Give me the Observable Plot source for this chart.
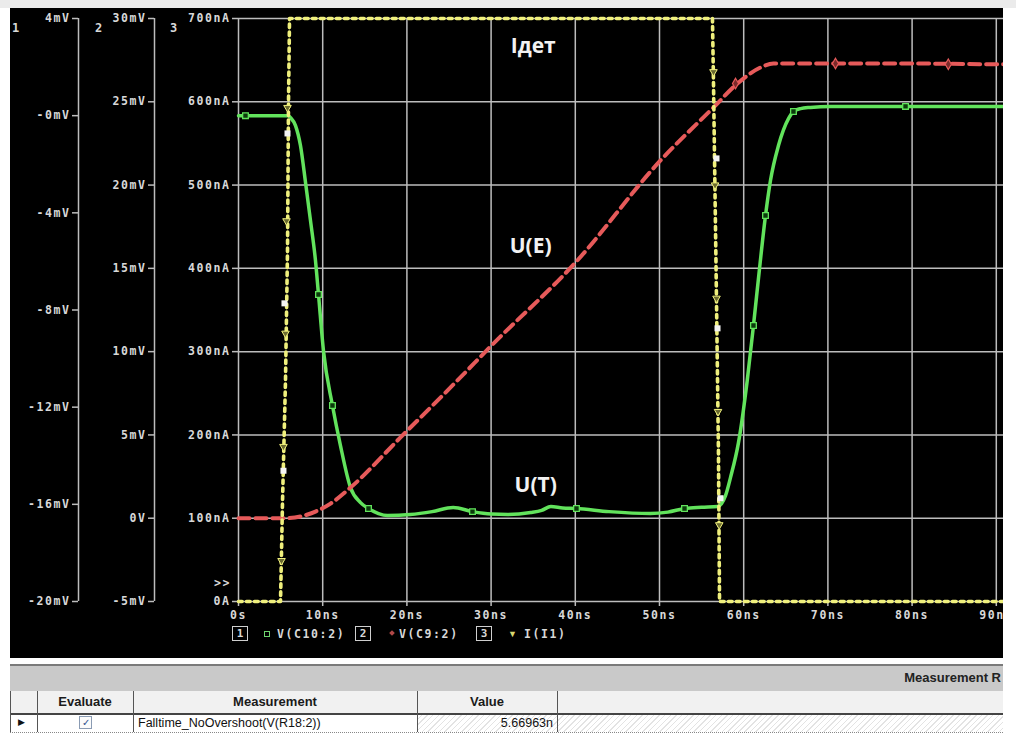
<!DOCTYPE html>
<html><head><meta charset="utf-8">
<script src="https://cdn.jsdelivr.net/npm/d3@7"></script>
<script src="https://cdn.jsdelivr.net/npm/@observablehq/plot@0.6"></script>
<style>
body{margin:0;width:1016px;height:736px;background:#fff;position:relative;overflow:hidden;font-family:"Liberation Sans",Arial,sans-serif;}
.abs{position:absolute;}
#topstrip{left:0;top:0;width:1016px;height:8px;background:#ebebeb;}
#scope{left:10px;top:8px;width:993px;height:650px;background:#000;overflow:hidden;}
#scope svg{max-width:none !important;display:block;}
#scope g[aria-label$="tick label"] text{letter-spacing:1.6px;}
.m{position:absolute;font-family:"DejaVu Sans Mono",monospace;font-weight:bold;color:#d8d8d8;font-size:11.5px;letter-spacing:1.6px;line-height:14px;white-space:nowrap;}
.box{position:absolute;border:1.5px solid #cfcfcf;width:14px;height:13px;text-align:center;line-height:13px;font-family:"DejaVu Sans Mono",monospace;font-weight:bold;color:#d8d8d8;font-size:11px;}
.hdr{position:absolute;font-weight:bold;font-size:13px;color:#1a1a1a;text-align:center;line-height:20px;}
.vl{position:absolute;width:1px;background:#555;}
.hatch{background:repeating-linear-gradient(135deg,#ffffff 0px,#ffffff 3px,#e3e3e3 3px,#e3e3e3 4px);}
</style></head>
<body>
<div id="topstrip" class="abs"></div>
<div id="scope" class="abs"></div>

<div class="m" style="left:12px;top:21px;font-size:12px;">1</div>
<div class="m" style="left:95px;top:21px;font-size:12px;">2</div>
<div class="m" style="left:170px;top:21px;font-size:12px;">3</div>
<div class="m" style="left:214px;top:576px;">&gt;&gt;</div>

<!-- legend -->
<div class="box" style="left:232px;top:626px;">1</div>
<div class="abs" style="left:264px;top:631px;width:4px;height:4px;border:1.2px solid #6fd46f;"></div>
<div class="m" style="left:277px;top:627px;">V(C10:2)</div>
<div class="box" style="left:355px;top:626px;">2</div>
<div class="abs" style="left:390px;top:631px;width:4px;height:4px;background:#b04848;transform:rotate(45deg);"></div>
<div class="m" style="left:399px;top:627px;">V(C9:2)</div>
<div class="box" style="left:476px;top:626px;">3</div>
<div class="abs" style="left:508px;top:628px;color:#d8d870;font-size:9px;line-height:12px;">▼</div>
<div class="m" style="left:524px;top:627px;">I(I1)</div>

<!-- table -->
<div class="abs" style="left:10px;top:664px;width:993px;height:2px;background:#7a7a7a;"></div>
<div class="abs" style="left:10px;top:666px;width:993px;height:25px;background:#c9c9c9;overflow:hidden;">
  <div class="abs" style="right:2px;top:4px;font-weight:bold;font-size:13px;color:#222;white-space:nowrap;">Measurement R</div>
</div>
<div class="abs" style="left:10px;top:691px;width:993px;height:22px;background:#f1f1f1;"></div>
<div class="abs" style="left:10px;top:713px;width:993px;height:2px;background:#444;"></div>
<div class="abs hatch" style="left:417px;top:715px;width:586px;height:17px;"></div>
<div class="abs" style="left:10px;top:732px;width:993px;height:1px;border-top:1px dotted #888;"></div>
<div class="vl" style="left:10px;top:691px;height:41px;"></div>
<div class="vl" style="left:37px;top:691px;height:41px;"></div>
<div class="vl" style="left:133px;top:691px;height:41px;"></div>
<div class="vl" style="left:417px;top:691px;height:41px;"></div>
<div class="vl" style="left:557px;top:691px;height:41px;"></div>
<div class="hdr" style="left:37px;top:692px;width:96px;">Evaluate</div>
<div class="hdr" style="left:133px;top:692px;width:284px;">Measurement</div>
<div class="hdr" style="left:417px;top:692px;width:140px;">Value</div>
<div class="abs" style="left:18px;top:716px;font-size:9px;line-height:12px;color:#111;">▶</div>
<div class="abs" style="left:79px;top:716px;width:11px;height:11px;border:1px solid #8a9bb3;background:#fbfbfb;color:#2d4f8f;font-size:10px;line-height:11px;text-align:center;">✓</div>
<div class="abs" style="left:138px;top:715px;font-size:12.5px;line-height:16px;color:#111;white-space:nowrap;">Falltime_NoOvershoot(V(R18:2))</div>
<div class="abs" style="left:420px;top:715px;width:133px;text-align:right;font-size:12.5px;line-height:16px;color:#111;">5.66963n</div>

<script>
// ---- tick values & labels ----
const xTicks = [0, 10, 20, 30, 40, 50, 60, 70, 80, 90];
const xLabels = ["0s", "10ns", "20ns", "30ns", "40ns", "50ns", "60ns", "70ns", "80ns", "90ns"];
const nATicks = [0, 100, 200, 300, 400, 500, 600, 700];
const nALabels = ["0A", "100nA", "200nA", "300nA", "400nA", "500nA", "600nA", "700nA"];
const ax2Ticks = [-5, 0, 5, 10, 15, 20, 25, 30];
const ax2Labels = ["-5mV", "0V", "5mV", "10mV", "15mV", "20mV", "25mV", "30mV"];
const ax1Ticks = [-20, -16, -12, -8, -4, 0, 4];
const ax1Labels = ["-20mV", "-16mV", "-12mV", "-8mV", "-4mV", "-0mV", "4mV"];

// ---- trace 1: V(C10:2), axis 1 (mV) ----
const greenT = [0, 5.9, 6.18, 6.77, 7.36, 7.96, 8.55, 9.14, 9.50, 10.10, 11.16, 12.11, 13.30, 14.49, 15.44, 16.63, 17.70,
  20.4, 23.0, 25.5, 27.8, 30.0, 32.0, 34.7, 36.0, 37.1, 38.5, 40.1, 44.0, 48.9, 51.0, 53.0, 55.0, 56.9,
  57.36, 57.84, 58.43, 59.38, 60.42, 61.16, 61.88, 62.59, 63.18, 64.13, 65.32, 65.91, 66.75, 67.93, 70.3, 80, 90, 100];
const greenMV = [0, 0, -0.08, -0.41, -1.23, -2.75, -4.32, -5.96, -7.36, -9.71, -11.93, -13.58, -15.31, -15.93, -16.17, -16.38, -16.46,
  -16.42, -16.30, -16.13, -16.30, -16.40, -16.42, -16.34, -16.25, -16.09, -16.15, -16.17, -16.30, -16.38, -16.32, -16.17, -16.12, -16.09,
  -15.97, -15.64, -14.90, -13.46, -10.90, -8.64, -6.29, -4.11, -2.67, -1.23, -0.12, 0.17, 0.29, 0.34, 0.38, 0.38, 0.38, 0.36];
const greenMarkT = [0.83, 9.50, 11.16, 15.44, 27.79, 40.14, 52.97, 61.16, 62.59, 65.91, 79.22];
const greenMarkMV = [0, -7.36, -11.93, -16.17, -16.30, -16.17, -16.17, -8.64, -4.11, 0.17, 0.38];

// ---- trace 2: V(C9:2), axis 2 (mV) ----
const redT = [0, 5.58, 7.36, 9.14, 10.93, 13.3, 19.24, 26.0, 30.05, 40.02, 50.12, 56.41, 59.26, 62.0, 63.54, 70, 80, 90, 100];
const redMV = [0, 0, 0.1, 0.4, 0.88, 1.84, 4.85, 8.27, 10.37, 15.35, 21.48, 24.66, 26.1, 27.06, 27.3, 27.3, 27.3, 27.25, 27.25];
const redMarkT = [59.03, 70.9, 84.3];
const redMarkMV = [26.1, 27.3, 27.25];

// ---- trace 3: I(I1), axis 3 (nA) ----
const yellowT = [0, 4.99, 5.23, 5.58, 5.82, 5.94, 6.06, 56.29, 56.41, 56.77, 57.0, 57.13, 100];
const yellowNA = [0, 0, 121, 265, 421, 601, 700, 700, 625, 361, 181, 0, 0];
const yellowMarkT = [5.82, 5.70, 5.58, 5.34, 5.11, 56.41, 56.6, 56.77, 56.95, 57.1];
const yellowMarkNA = [593, 457, 322, 186, 49, 636, 500, 364, 228, 92];
const cursorT = [5.82, 5.46, 5.34, 56.77, 56.89, 57.24];
const cursorNA = [562, 358, 157, 532, 328, 124];

// ---- annotations ----
const notes = [
  {t: 35.0, nA: 667, label: "Iдет"},
  {t: 34.7, nA: 427, label: "U(E)"},
  {t: 35.3, nA: 140, label: "U(T)"}
];

// map each axis' units onto the shared vertical scale (0..700, axis 3)
const fromAx1 = v => (v + 20) / 24 * 700;
const fromAx2 = v => (v + 5) / 35 * 700;

const green = greenT.map((t, i) => ({t, y: fromAx1(greenMV[i])}));
const greenMarks = greenMarkT.map((t, i) => ({t, y: fromAx1(greenMarkMV[i])}));
const red = redT.map((t, i) => ({t, y: fromAx2(redMV[i])}));
const redMarks = redMarkT.map((t, i) => ({t, y: fromAx2(redMarkMV[i])}));
const yellow = yellowT.map((t, i) => ({t, y: yellowNA[i]}));
const yellowMarks = yellowMarkT.map((t, i) => ({t, y: yellowMarkNA[i]}));
const cursors = cursorT.map((t, i) => ({t, y: cursorNA[i]}));

const xLab = new Map(xTicks.map((d, i) => [d, xLabels[i]]));
const nALab = new Map(nATicks.map((d, i) => [d, nALabels[i]]));
const ax2Pos = ax2Ticks.map(fromAx2);
const ax2Lab = new Map(ax2Pos.map((d, i) => [d, ax2Labels[i]]));
const ax1Pos = ax1Ticks.map(fromAx1);
const ax1Lab = new Map(ax1Pos.map((d, i) => [d, ax1Labels[i]]));

const grid = "#bdbdbd";
const GREEN = "#62e35c", RED = "#e65a5a", YELLOW = "#efef7c";

const chart = Plot.plot({
  width: 1070, height: 650,
  marginLeft: 228, marginRight: 0, marginTop: 10, marginBottom: 57,
  style: {background: "black", color: "#d8d8d8", fontFamily: "DejaVu Sans Mono, monospace", fontSize: "11.5px", fontWeight: "bold", maxWidth: "none"},
  x: {domain: [0, 100]},
  y: {domain: [0, 700]},
  marks: [
    Plot.ruleX([...xTicks, 100], {stroke: grid, strokeWidth: 1.5}),
    Plot.ruleY(nATicks, {stroke: grid, strokeWidth: 1.5}),
    Plot.ruleX([0], {dx: -84, stroke: grid, strokeWidth: 1.5}),
    Plot.ruleX([0], {dx: -160, stroke: grid, strokeWidth: 1.5}),
    Plot.axisX(xTicks, {anchor: "bottom", tickSize: 5, tickPadding: 4, stroke: grid, strokeWidth: 1.5, tickFormat: d => xLab.get(d), label: null}),
    Plot.axisY(nATicks, {anchor: "left", tickSize: 6, tickPadding: 2, stroke: grid, strokeWidth: 1.5, tickFormat: d => nALab.get(d), label: null}),
    Plot.axisY(ax2Pos, {anchor: "left", dx: -84, tickSize: 6, tickPadding: 2, stroke: grid, strokeWidth: 1.5, tickFormat: d => ax2Lab.get(d), label: null}),
    Plot.axisY(ax1Pos, {anchor: "left", dx: -160, tickSize: 6, tickPadding: 2, stroke: grid, strokeWidth: 1.5, tickFormat: d => ax1Lab.get(d), label: null}),
    Plot.line(green, {x: "t", y: "y", stroke: GREEN, strokeWidth: 3.5, curve: "monotone-x"}),
    Plot.dot(greenMarks, {x: "t", y: "y", symbol: "square", r: 3.2, stroke: GREEN, strokeWidth: 1.3, fill: "#0b3a0b"}),
    Plot.line(red, {x: "t", y: "y", stroke: RED, strokeWidth: 4, strokeDasharray: "11,6", curve: "monotone-x"}),
    Plot.dot(redMarks, {x: "t", y: "y", symbol: "diamond", r: 3.2, fill: "#7a2a2a", stroke: RED, strokeWidth: 1.2}),
    Plot.line(yellow, {x: "t", y: "y", stroke: YELLOW, strokeWidth: 3.6, strokeDasharray: "3.6,4.4", curve: "linear"}),
    Plot.dot(yellowMarks, {x: "t", y: "y", symbol: "triangle", rotate: 180, r: 2.8, fill: "#6a6a30", stroke: YELLOW, strokeWidth: 1}),
    Plot.dot(cursors, {x: "t", y: "y", symbol: "square", r: 3.4, fill: "#f4f4f4"}),
    Plot.text(notes, {x: "t", y: "nA", text: "label", fill: "#f2f2f2", fontSize: 21, fontWeight: "bold", fontFamily: "Open Sans, sans-serif"})
  ]
});
document.getElementById("scope").appendChild(chart);
</script>
</body></html>
